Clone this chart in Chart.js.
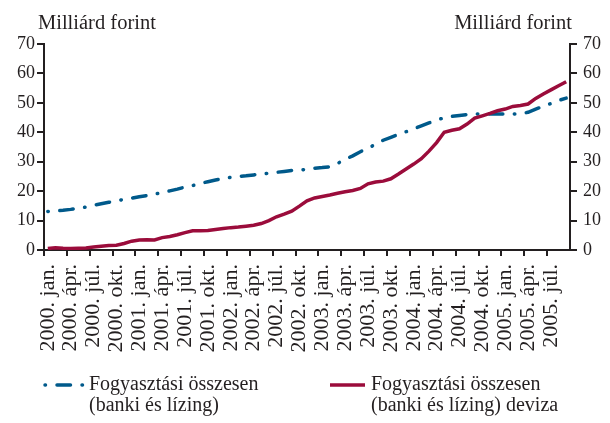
<!DOCTYPE html>
<html lang="hu">
<head>
<meta charset="utf-8">
<title>Fogyasztási hitelek</title>
<script src="https://cdn.jsdelivr.net/npm/chart.js@4.4.1/dist/chart.umd.min.js"></script>
<style>
  html, body { margin: 0; padding: 0; background: #fff; }
  #wrap { position: relative; width: 610px; height: 423px; }
</style>
</head>
<body>
<div id="wrap"><canvas id="chart" width="610" height="423"></canvas></div>
<script>
// Havi állományok, milliárd forint (2000. jan. – 2005. szept.)
const years = [2000, 2001, 2002, 2003, 2004, 2005];
const monthNames = ['jan.', 'febr.', 'márc.', 'ápr.', 'máj.', 'jún.', 'júl.', 'aug.', 'szept.', 'okt.', 'nov.', 'dec.'];
const labeledMonths = ['jan.', 'ápr.', 'júl.', 'okt.'];
const yTicks = [0, 10, 20, 30, 40, 50, 60, 70];
const unitLabel = 'Milliárd forint';

const osszesenLabel = ['Fogyasztási összesen', '(banki és lízing)'];
const osszesen = [
  13.1, 13.3, 13.5, 13.8, 14.2, 14.6, 15.2, 15.7, 16.2, 16.7, 17.2, 17.6,
  18.1, 18.5, 19.0, 19.5, 20.1, 20.7, 21.4, 21.9, 22.6, 23.2, 23.8, 24.3,
  24.7, 25.0, 25.2, 25.5, 25.8, 26.1, 26.4, 26.7, 27.0, 27.2, 27.4, 27.8,
  28.0, 28.3, 29.4, 30.8, 32.0, 33.4, 34.6, 35.9, 37.3, 38.3, 39.3, 40.2,
  41.2, 42.2, 43.2, 44.2, 44.9, 45.4, 45.7, 46.0, 46.2, 46.2, 46.2, 46.2,
  46.2, 46.2, 46.3, 46.8, 47.9, 48.8, 49.8, 50.8, 51.6
];

const devizaLabel = ['Fogyasztási összesen', '(banki és lízing) deviza'];
const deviza = [
  0.5, 0.8, 0.6, 0.5, 0.6, 0.7, 1.0, 1.3, 1.5, 1.6, 2.2, 3.0,
  3.4, 3.5, 3.4, 4.2, 4.6, 5.2, 5.9, 6.5, 6.5, 6.6, 7.0, 7.3,
  7.6, 7.8, 8.1, 8.4, 9.0, 10.0, 11.3, 12.2, 13.2, 14.9, 16.7, 17.7,
  18.2, 18.7, 19.3, 19.8, 20.2, 20.9, 22.5, 23.1, 23.4, 24.2, 25.8, 27.5,
  29.2, 31.0, 33.6, 36.5, 40.0, 40.7, 41.2, 42.8, 44.8, 45.6, 46.4, 47.3,
  47.9, 48.8, 49.1, 49.6, 51.5, 53.0, 54.4, 55.8, 57.2
];

// kategóriák: "2000. jan." ... annyi hónap, ahány adat van
const categories = [];
years.forEach(function (y) {
  monthNames.forEach(function (m) {
    if (categories.length < deviza.length) categories.push(y + '. ' + m);
  });
});

const textColor = '#231f20';
const blue = '#005a8b';
const red = '#9b0c3b';
const serif = "'Liberation Serif', 'Times New Roman', serif";

Chart.defaults.font.family = serif;
Chart.defaults.color = textColor;

// negyedéves osztásjelek az x tengelyen
function quarterColor(ctx) {
  return ctx.index % 3 === 0 ? textColor : 'rgba(0,0,0,0)';
}

// mértékegység és jelmagyarázat rajzolása
const extraText = {
  id: 'extraText',
  afterDraw(chart) {
    const ctx = chart.ctx;
    const area = chart.chartArea;
    ctx.save();
    ctx.font = '20.5px ' + serif;
    ctx.fillStyle = textColor;
    ctx.textBaseline = 'alphabetic';
    ctx.textAlign = 'left';
    ctx.fillText(unitLabel, area.left - 6, 29);
    ctx.textAlign = 'right';
    ctx.fillText(unitLabel, area.right + 2, 29);

    ctx.font = '20px ' + serif;
    const items = [
      { ds: chart.data.datasets[1], x: 44, len: 39 },
      { ds: chart.data.datasets[0], x: 329, len: 36 }
    ];
    items.forEach(function (it) {
      ctx.save();
      ctx.strokeStyle = it.ds.borderColor;
      ctx.lineWidth = it.ds.borderWidth;
      ctx.lineCap = it.ds.borderCapStyle || 'butt';
      ctx.setLineDash(it.ds.borderDash || []);
      ctx.lineDashOffset = it.ds.borderDashOffset || 0;
      ctx.beginPath();
      ctx.moveTo(it.x + 1, 385);
      ctx.lineTo(it.x + it.len, 385);
      ctx.stroke();
      ctx.restore();
      ctx.textAlign = 'left';
      it.ds.label.forEach(function (line, i) {
        ctx.fillText(line, it.x + it.len + 6, 390 + i * 21);
      });
    });
    ctx.restore();
  }
};

new Chart(document.getElementById('chart'), {
  type: 'line',
  data: {
    labels: categories,
    datasets: [
      {
        label: devizaLabel,
        data: deviza,
        borderColor: red,
        borderWidth: 3.5,
        pointRadius: 0,
        tension: 0,
        fill: false
      },
      {
        label: osszesenLabel,
        data: osszesen,
        borderColor: blue,
        borderWidth: 3.5,
        borderCapStyle: 'round',
        borderDash: [13.5, 11.5, 0.5, 11.5],
        borderDashOffset: 25,
        pointRadius: 0,
        tension: 0,
        fill: false
      }
    ]
  },
  options: {
    responsive: false,
    animation: false,
    layout: { padding: { top: 44, left: 0, right: 0, bottom: 0 } },
    plugins: {
      legend: { display: false },
      tooltip: { enabled: false }
    },
    scales: {
      x: {
        type: 'category',
        offset: true,
        border: { display: true, color: textColor, width: 2 },
        grid: {
          offset: true,
          drawOnChartArea: false,
          drawTicks: true,
          tickLength: 6,
          lineWidth: 2,
          color: quarterColor,
          tickColor: quarterColor
        },
        ticks: {
          autoSkip: false,
          maxRotation: 90,
          minRotation: 90,
          padding: 8,
          font: { size: 22 },
          color: textColor,
          callback: function (value) {
            const l = this.getLabelForValue(value);
            return labeledMonths.some(function (m) { return l.endsWith(' ' + m); }) ? l : '';
          }
        },
        afterFit: function (s) { s.height = 423 - 250; }
      },
      y: {
        position: 'left',
        min: yTicks[0],
        max: yTicks[yTicks.length - 1],
        border: { display: true, color: textColor, width: 2 },
        grid: { drawOnChartArea: false, drawTicks: true, tickLength: 7, lineWidth: 2, color: textColor },
        ticks: { stepSize: yTicks[1] - yTicks[0], padding: 2, font: { size: 18 }, color: textColor },
        afterFit: function (s) { s.width = 44; }
      },
      y2: {
        position: 'right',
        min: yTicks[0],
        max: yTicks[yTicks.length - 1],
        border: { display: true, color: textColor, width: 2 },
        grid: { drawOnChartArea: false, drawTicks: true, tickLength: 7, lineWidth: 2, color: textColor },
        ticks: { stepSize: yTicks[1] - yTicks[0], padding: 6, font: { size: 18 }, color: textColor },
        afterFit: function (s) { s.width = 40; }
      }
    }
  },
  plugins: [extraText]
});
</script>
</body>
</html>
